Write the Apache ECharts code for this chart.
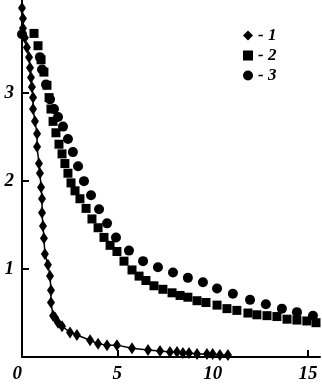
<!DOCTYPE html>
<html><head><meta charset="utf-8">
<script src="https://cdn.jsdelivr.net/npm/echarts@6/dist/echarts.min.js"></script>
<style>html,body{margin:0;padding:0;background:#fff}#c{width:322px;height:384px}</style>
</head><body><div id="c"></div>
<script>
const xTickLabels = [0, 5, 10, 15];
const yTickLabels = [1, 2, 3];
const names = ['1', '2', '3'];
const s1x = [0.0,0.05,0.05,0.15,0.26,0.37,0.42,0.47,0.52,0.58,0.58,0.68,0.79,0.79,0.89,0.94,1.0,1.05,1.05,1.1,1.15,1.2,1.36,1.47,1.52,1.52,1.63,1.73,1.89,2.1,2.52,2.88,3.57,3.99,4.46,4.98,5.77,6.61,7.24,7.76,8.13,8.44,8.76,9.18,9.7,10.0,10.38,10.8];
const s1y = [3.97,3.85,3.74,3.63,3.52,3.41,3.29,3.18,3.07,2.95,2.82,2.68,2.54,2.39,2.2,2.09,1.93,1.8,1.64,1.49,1.35,1.17,1.05,0.92,0.76,0.62,0.47,0.45,0.39,0.35,0.28,0.25,0.19,0.15,0.135,0.135,0.1,0.08,0.068,0.056,0.056,0.045,0.045,0.034,0.034,0.034,0.023,0.023];
const s2x = [0.63,0.84,1.0,1.15,1.31,1.42,1.52,1.63,1.78,1.94,2.1,2.25,2.41,2.57,2.78,3.04,3.36,3.67,3.99,4.3,4.62,4.98,5.35,5.77,6.14,6.5,6.92,7.39,7.87,8.29,8.7,9.18,9.65,10.23,10.75,11.27,11.85,12.32,12.85,13.37,13.9,14.42,14.94,15.42];
const s2y = [3.68,3.54,3.38,3.24,3.09,2.95,2.82,2.68,2.55,2.42,2.31,2.2,2.09,1.98,1.89,1.8,1.69,1.57,1.47,1.36,1.27,1.2,1.09,0.99,0.92,0.87,0.81,0.77,0.73,0.7,0.68,0.64,0.62,0.59,0.55,0.53,0.5,0.48,0.47,0.46,0.43,0.42,0.41,0.39];
const s3x = [0.0,0.94,1.05,1.26,1.47,1.68,1.89,2.15,2.41,2.67,2.94,3.25,3.62,4.04,4.46,4.93,5.61,6.35,7.13,7.92,8.7,9.49,10.23,11.06,11.96,12.79,13.63,14.42,15.26];
const s3y = [3.67,3.41,3.27,3.1,2.93,2.82,2.73,2.62,2.48,2.33,2.17,2.0,1.84,1.68,1.52,1.36,1.21,1.09,1.02,0.96,0.9,0.85,0.78,0.72,0.65,0.6,0.55,0.51,0.47];

const zip = (a, b) => a.map((v, i) => [v, b[i]]);
const font = {fontFamily: 'Liberation Serif', fontStyle: 'italic', fontWeight: 'bold', fontSize: 19, color: '#000'};
const solid = {color: '#000', opacity: 1};
const chart = echarts.init(document.getElementById('c'), null, {renderer: 'canvas'});
chart.setOption({
  animation: false,
  backgroundColor: '#fff',
  grid: {left: 22, right: 2, top: 0, bottom: 24, containLabel: false},
  legend: {
    orient: 'vertical', left: 238, top: 22, itemWidth: 10, itemHeight: 10, itemGap: 3,
    formatter: '- {name}',
    textStyle: Object.assign({}, font, {fontSize: 17}),
    data: [{name: names[0], icon: 'diamond'}, {name: names[1], icon: 'rect'}, {name: names[2], icon: 'circle'}]
  },
  xAxis: {
    type: 'value', min: 0, max: 15.63,
    axisLine: {show: true, onZero: false, lineStyle: {color: '#000', width: 2}},
    axisTick: {show: true, inside: true, length: 7, customValues: [5, 10, 15], lineStyle: {color: '#000', width: 2}},
    axisLabel: Object.assign({customValues: xTickLabels, margin: 8, alignMinLabel: 'right'}, font),
    splitLine: {show: false}
  },
  yAxis: {
    type: 'value', min: 0, max: 4.06,
    axisLine: {show: true, onZero: false, lineStyle: {color: '#000', width: 2}},
    axisTick: {show: true, inside: true, length: 7, customValues: yTickLabels, lineStyle: {color: '#000', width: 2}},
    axisLabel: Object.assign({customValues: yTickLabels, margin: 8}, font),
    splitLine: {show: false}
  },
  series: [
    {name: names[0], type: 'line', data: zip(s1x, s1y), symbol: 'diamond', symbolSize: [8, 12], showAllSymbol: true,
     itemStyle: solid, lineStyle: {color: '#000', width: 1.5}},
    {name: names[1], type: 'scatter', data: zip(s2x, s2y), symbol: 'rect', symbolSize: 9, itemStyle: solid},
    {name: names[2], type: 'scatter', data: zip(s3x, s3y), symbol: 'circle', symbolSize: 10, itemStyle: solid}
  ]
});
</script></body></html>
